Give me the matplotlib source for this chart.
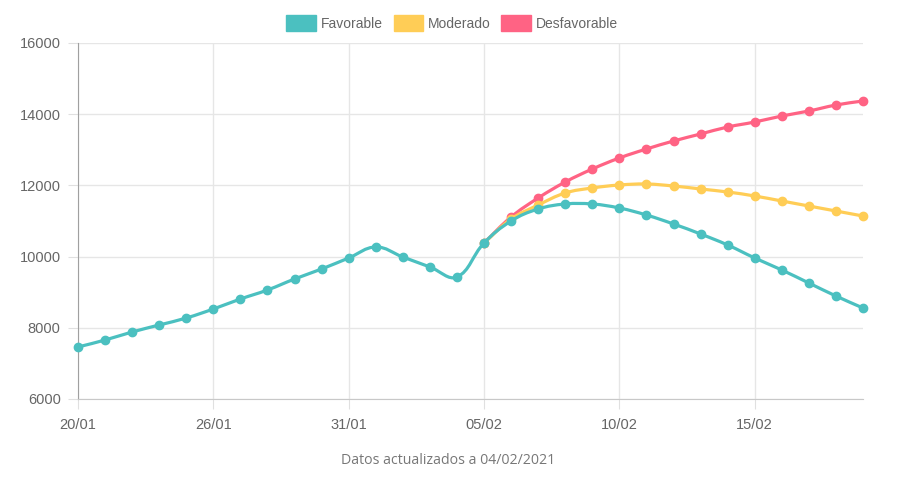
import matplotlib
matplotlib.use("Agg")
import matplotlib.pyplot as plt
import numpy as np
from matplotlib.path import Path
from matplotlib.patches import PathPatch, Patch

# Dates (category axis)
dates = ["20/01", "21/01", "22/01", "23/01", "25/01",
         "26/01", "27/01", "28/01", "29/01", "30/01",
         "31/01", "01/02", "02/02", "03/02", "04/02",
         "05/02", "06/02", "07/02", "08/02", "09/02",
         "10/02", "11/02", "12/02", "13/02", "14/02",
         "15/02", "16/02", "17/02", "18/02", "19/02"]

favorable = [7461, 7657, 7882, 8079, 8275, 8528, 8809, 9062, 9371, 9652,
             9961, 10270, 9989, 9708, 9427, 10382, 11000, 11337, 11477, 11477,
             11365, 11168, 10916, 10635, 10326, 9961, 9624, 9258, 8893, 8556]
moderado = [10382, 11056, 11449, 11787, 11927, 12011, 12039, 11983, 11899,
            11815, 11702, 11562, 11421, 11281, 11140]
desfavorable = [10382, 11112, 11646, 12095, 12460, 12770, 13022, 13247, 13444,
                13640, 13781, 13949, 14090, 14258, 14371]
start_proj = 15

colors = {"Favorable": "#4BC0C0", "Moderado": "#FFCD56", "Desfavorable": "#FF6384"}
grey = "#666666"

fig = plt.figure(figsize=(9.03, 4.92), dpi=100)
ax = fig.add_axes([78 / 903, 93 / 492, 785 / 903, 356 / 492])
ax.set_xlim(0, len(dates) - 1)
ax.set_ylim(6000, 16000)


def smooth_path(xs, ys, tension=0.4):
    # Chart.js-like bezier spline, control points computed in pixel space
    pts = ax.transData.transform(np.column_stack([xs, ys]))
    n = len(pts)
    verts = [pts[0]]
    codes = [Path.MOVETO]
    cp_prev = [None] * n
    cp_next = [None] * n
    for i in range(n):
        p1 = pts[i]
        p0 = pts[i - 1] if i > 0 else p1
        p2 = pts[i + 1] if i < n - 1 else p1
        d01 = np.hypot(*(p1 - p0))
        d12 = np.hypot(*(p2 - p1))
        tot = d01 + d12
        s01 = d01 / tot if tot else 0
        s12 = d12 / tot if tot else 0
        cp_prev[i] = p1 - tension * s01 * (p2 - p0)
        cp_next[i] = p1 + tension * s12 * (p2 - p0)
    for i in range(1, n):
        verts += [cp_next[i - 1], cp_prev[i], pts[i]]
        codes += [Path.CURVE4] * 3
    inv = ax.transData.inverted()
    return Path(inv.transform(np.array(verts)), codes)


series = [
    ("Desfavorable", list(range(start_proj, len(dates))), desfavorable, 2),
    ("Moderado", list(range(start_proj, len(dates))), moderado, 3),
    ("Favorable", list(range(len(dates))), favorable, 4),
]
for name, xs, ys, z in series:
    c = colors[name]
    ax.add_patch(PathPatch(smooth_path(xs, ys), facecolor="none", edgecolor=c,
                           lw=2.3, zorder=z, capstyle="round", joinstyle="round"))
    ax.plot(xs, ys, "o", color=c, markersize=6, zorder=z + 0.5, clip_on=False)

# grid and axes styling
ax.set_yticks(np.arange(6000, 16001, 2000))
ax.set_xticks(range(0, len(dates), 5))
ax.set_xticklabels([dates[i] for i in range(0, len(dates), 5)])
ax.grid(True, color="#e6e6e6", lw=1)
ax.set_axisbelow(True)
for s in ["top", "right"]:
    ax.spines[s].set_visible(False)
ax.spines["left"].set_color("#a0a0a0")
ax.spines["bottom"].set_color("#c8c8c8")
ax.tick_params(axis="both", length=7.5, color="#e0e0e0", labelcolor=grey,
               labelsize=10.5)
ax.tick_params(axis="x", pad=6.5)
ax.tick_params(axis="y", pad=5)
for lab in ax.get_xticklabels() + ax.get_yticklabels():
    lab.set_fontfamily("Liberation Sans")

# legend
handles = [Patch(facecolor=colors[n], edgecolor=colors[n]) for n in colors]
leg = fig.legend(handles, list(colors.keys()), loc="center",
                 bbox_to_anchor=(452 / 903, 1 - 23 / 492), ncol=3, frameon=False,
                 handlelength=2.1, handleheight=1.39, handletextpad=0.35,
                 columnspacing=0.8, prop={"family": "Liberation Sans", "size": 10})
for t in leg.get_texts():
    t.set_color(grey)

fig.text(448 / 903, 1 - 461 / 492, "Datos actualizados a 04/02/2021",
         ha="center", va="center", color="#777777", fontsize=10.2,
         family="Open Sans")

fig.savefig("out.png", dpi=100)
